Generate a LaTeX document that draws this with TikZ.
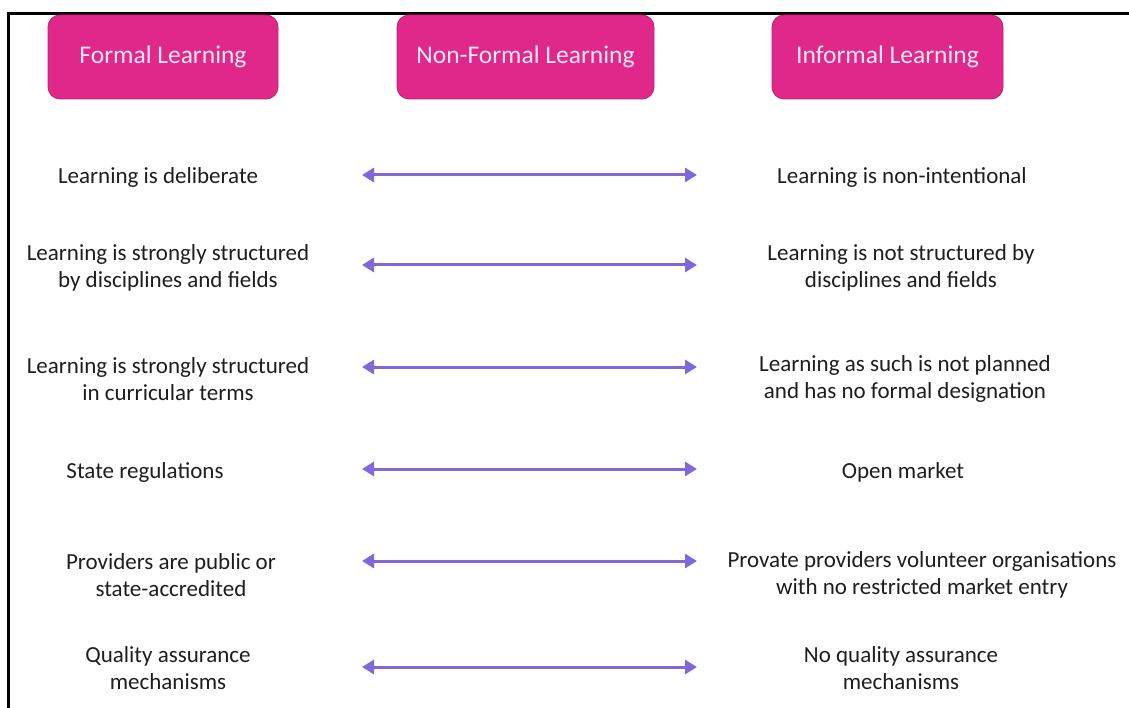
\documentclass[tikz,border=0pt]{standalone}
\usepackage{fontspec}
\setmainfont{Carlito}
\usetikzlibrary{arrows.meta}
\definecolor{boxpink}{HTML}{E0288A}
\definecolor{boxedge}{HTML}{C0206F}
\definecolor{headtxt}{HTML}{FBE6F2}
\definecolor{arrowpurple}{HTML}{8068D8}
\definecolor{txt}{HTML}{1E1E1E}
\tikzset{
  header/.style={draw=boxedge, line width=0.8pt, fill=boxpink, rounded corners=12pt,
    text=headtxt, font=\fontsize{25.5}{30}\selectfont, minimum height=84pt, inner sep=0pt},
  item/.style={align=center, text=txt, font=\fontsize{23}{27}\selectfont, inner sep=0pt},
  twoway/.style={arrowpurple, line width=3pt, {Triangle[length=12pt,width=14pt]}-{Triangle[length=12pt,width=14pt]}}
}
\begin{document}
\begin{tikzpicture}[x=1pt,y=-1pt]
\useasboundingbox (0,0) rectangle (1129,708);
\fill[white] (0,0) rectangle (1129,708);
\draw[line width=3pt, black] (8,708) -- (8,14) -- (1129,14);

\node[header, minimum width=230pt] (formal) at (163,57) {Formal Learning};
\node[header, minimum width=257pt] (nonformal) at (525.5,57) {Non-Formal Learning};
\node[header, minimum width=231pt] (informal) at (887.5,57) {Informal Learning};

\node[item] (l1) at (158,177) {Learning is deliberate};
\node[item] (l2) at (168,268) {Learning is strongly structured\\by disciplines and fields};
\node[item] (l3) at (168,379) {Learning is strongly structured\\in curricular terms};
\node[item] (l4) at (145,472) {State regulations};
\node[item] (l5) at (171,575) {Providers are public or\\state-accredited};
\node[item] (l6) at (168,668) {Quality assurance\\mechanisms};

\node[item] (r1) at (902,177) {Learning is non-intentional};
\node[item] (r2) at (901,268) {Learning is not structured by\\disciplines and fields};
\node[item] (r3) at (905,379) {Learning as such is not planned\\and has no formal designation};
\node[item] (r4) at (903,472) {Open market};
\node[item] (r5) at (922,575) {Provate providers volunteer organisations\\with no restricted market entry};
\node[item] (r6) at (901,668) {No quality assurance\\mechanisms};

\foreach \i/\y in {1/175,2/265,3/367,4/469,5/561,6/667}{
  \coordinate (a\i) at (362,\y);
  \coordinate (b\i) at (697,\y);
  \draw[twoway] (a\i) -- (b\i);
}
\end{tikzpicture}
\end{document}
